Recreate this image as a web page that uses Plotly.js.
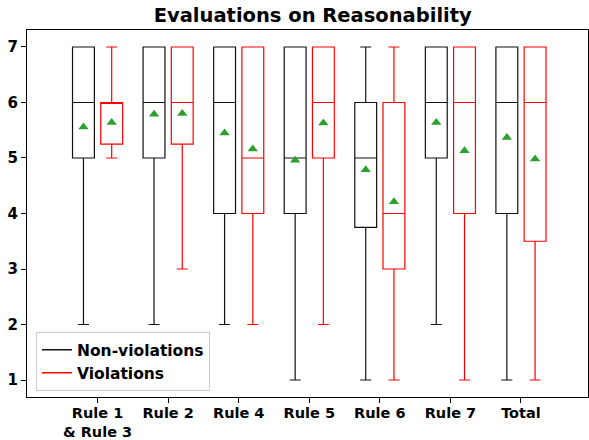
<!DOCTYPE html>
<html>
<head>
<meta charset="utf-8">
<script src="https://cdn.plot.ly/plotly-3.0.1.min.js"></script>
<style>html,body{margin:0;padding:0;background:#fff;}#chart{width:589px;height:440px;}</style>
</head>
<body>
<div id="chart"></div>
<script>
const categories = ["Rule 1<br>& Rule 3", "Rule 2", "Rule 4", "Rule 5", "Rule 6", "Rule 7", "Total"];
const positions = [1, 2, 3, 4, 5, 6, 7];

// Non-violations
const nvLower  = [2, 2, 2, 1, 1, 2, 1];
const nvQ1     = [5, 5, 4, 4, 3.75, 5, 4];
const nvMedian = [6, 6, 6, 5, 5, 6, 6];
const nvQ3     = [7, 7, 7, 7, 6, 7, 7];
const nvUpper  = [7, 7, 7, 7, 7, 7, 7];
const nvMean   = [5.56, 5.79, 5.45, 4.96, 4.79, 5.64, 5.37];

// Violations
const vLower  = [5, 3, 2, 2, 1, 1, 1];
const vQ1     = [5.25, 5.25, 4, 5, 3, 4, 3.5];
const vMedian = [6, 6, 5, 6, 4, 6, 6];
const vQ3     = [6, 7, 7, 7, 6, 7, 7];
const vUpper  = [7, 7, 7, 7, 7, 7, 7];
const vMean   = [5.64, 5.8, 5.16, 5.63, 4.21, 5.13, 4.98];

const offset = 0.2;
const nvX = positions.map(p => p - offset);
const vX = positions.map(p => p + offset);

const NV_COLOR = "#111111";
const V_COLOR = "#ff0000";
const MEAN_COLOR = "#2ca02c";

const traces = [
  {
    type: "box", x: nvX, q1: nvQ1, median: nvMedian, q3: nvQ3,
    lowerfence: nvLower, upperfence: nvUpper, width: 0.31, whiskerwidth: 0.5,
    boxpoints: false, line: {color: NV_COLOR, width: 1.2}, fillcolor: "rgba(0,0,0,0)",
    showlegend: false, hoverinfo: "skip"
  },
  {
    type: "box", x: vX, q1: vQ1, median: vMedian, q3: vQ3,
    lowerfence: vLower, upperfence: vUpper, width: 0.31, whiskerwidth: 0.5,
    boxpoints: false, line: {color: V_COLOR, width: 1.2}, fillcolor: "rgba(0,0,0,0)",
    showlegend: false, hoverinfo: "skip"
  },
  {
    type: "scatter", mode: "markers", x: nvX, y: nvMean,
    marker: {symbol: "triangle-up", size: 9, color: MEAN_COLOR}, showlegend: false
  },
  {
    type: "scatter", mode: "markers", x: vX, y: vMean,
    marker: {symbol: "triangle-up", size: 9, color: MEAN_COLOR}, showlegend: false
  },
  {
    type: "scatter", mode: "lines", x: [null], y: [null], name: "Non-violations",
    line: {color: NV_COLOR, width: 1.5}
  },
  {
    type: "scatter", mode: "lines", x: [null], y: [null], name: "Violations",
    line: {color: V_COLOR, width: 1.5}
  }
];

const font = {family: "DejaVu Sans", size: 15, color: "#000", weight: "bold"};
const xfont = {family: "DejaVu Sans", size: 14.5, color: "#000", weight: "bold"};

const layout = {
  width: 589, height: 440,
  margin: {l: 27, r: 1, t: 30, b: 43},
  paper_bgcolor: "#fff", plot_bgcolor: "#fff",
  font: font,
  title: {text: "Evaluations on Reasonability", font: {family: "DejaVu Sans", size: 19.5, weight: "bold", color: "#000"},
          x: 0.531, xanchor: "center", y: 0.966, yanchor: "middle"},
  boxmode: "overlay",
  showlegend: true,
  legend: {x: 0.016, y: 0.016, xanchor: "left", yanchor: "bottom",
           bgcolor: "rgba(255,255,255,0.85)", bordercolor: "#cccccc", borderwidth: 1,
           font: {family: "DejaVu Sans", size: 15.5, weight: "bold", color: "#000"},
           tracegroupgap: 0, itemwidth: 30},
  xaxis: {
    range: [0, 7.95], tickvals: positions, ticktext: categories,
    showgrid: false, zeroline: false, showline: true, mirror: true,
    linecolor: "#000", linewidth: 1, ticks: "outside", ticklen: 5, tickcolor: "#000",
    tickfont: xfont, ticklabelstandoff: -2
  },
  yaxis: {
    range: [0.694, 7.306], tickvals: [1, 2, 3, 4, 5, 6, 7],
    showgrid: false, zeroline: false, showline: true, mirror: true,
    linecolor: "#000", linewidth: 1, ticks: "outside", ticklen: 5, tickcolor: "#000",
    tickfont: font
  }
};

Plotly.newPlot("chart", traces, layout, {displayModeBar: false, staticPlot: true});
</script>
</body>
</html>
